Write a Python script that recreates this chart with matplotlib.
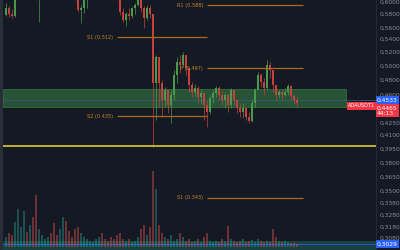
"""ADAUSDT candle chart with pivot levels, zone and volume (dark theme)."""

import numpy as np
import matplotlib
matplotlib.use("Agg")
import matplotlib.pyplot as plt
from matplotlib.transforms import blended_transform_factory

# price axis labels shown on the right
tick_values = [0.6000, 0.5800, 0.5600, 0.5400, 0.5200, 0.5000, 0.4800, 0.4600,
               0.4250, 0.4100, 0.3950, 0.3800, 0.3650, 0.3500, 0.3380, 0.3280,
               0.3180, 0.3080]
tick_labels = [f"{v:.4f}".replace(".", ",") for v in tick_values]
# the screen scale is not linear: pixel row of every label (plus end anchors)
scale_prices = [0.25] + tick_values[::-1] + [0.70]
scale_rows = [307.6] + [238, 227, 215, 203, 191, 177, 163, 149, 135, 123,
                        95, 80, 66, 52, 39, 28, 14, 2] + [-58]

# candles
opens = [0.578, 0.590, 0.580, 0.577, 0.610, 0.615, 0.625, 0.630, 0.620, 0.625,
         0.615, 0.610, 0.612, 0.620, 0.628, 0.635, 0.630, 0.622, 0.618, 0.625,
         0.632, 0.628, 0.620, 0.615, 0.610, 0.587, 0.590, 0.605, 0.610, 0.618,
         0.625, 0.632, 0.640, 0.636, 0.628, 0.622, 0.616, 0.612, 0.610, 0.583,
         0.571, 0.580, 0.577, 0.590, 0.595, 0.605, 0.590, 0.574, 0.590, 0.580,
         0.476, 0.513, 0.476, 0.454, 0.467, 0.447, 0.460, 0.487, 0.506, 0.501,
         0.516, 0.497, 0.473, 0.464, 0.469, 0.457, 0.463, 0.447, 0.439, 0.456,
         0.463, 0.469, 0.460, 0.454, 0.460, 0.447, 0.467, 0.454, 0.444, 0.439,
         0.444, 0.432, 0.428, 0.450, 0.467, 0.487, 0.477, 0.469, 0.501, 0.494,
         0.473, 0.460, 0.464, 0.460, 0.464, 0.472, 0.459, 0.454]
closes = [0.590, 0.580, 0.577, 0.610, 0.615, 0.625, 0.630, 0.620, 0.625, 0.615,
          0.610, 0.612, 0.620, 0.628, 0.635, 0.630, 0.622, 0.618, 0.625, 0.632,
          0.628, 0.620, 0.615, 0.610, 0.587, 0.590, 0.605, 0.610, 0.618, 0.625,
          0.632, 0.640, 0.636, 0.628, 0.622, 0.616, 0.612, 0.610, 0.583, 0.571,
          0.580, 0.577, 0.590, 0.595, 0.605, 0.590, 0.574, 0.590, 0.580, 0.476,
          0.513, 0.476, 0.454, 0.467, 0.447, 0.460, 0.487, 0.506, 0.501, 0.516,
          0.497, 0.473, 0.464, 0.469, 0.457, 0.463, 0.447, 0.439, 0.456, 0.463,
          0.469, 0.460, 0.454, 0.460, 0.447, 0.467, 0.454, 0.444, 0.439, 0.444,
          0.432, 0.428, 0.450, 0.467, 0.487, 0.477, 0.469, 0.501, 0.494, 0.473,
          0.460, 0.464, 0.460, 0.464, 0.472, 0.459, 0.454, 0.450]
highs = [0.598, 0.593, 0.588, 0.620, 0.622, 0.632, 0.640, 0.634, 0.630, 0.628,
         0.620, 0.616, 0.624, 0.633, 0.640, 0.638, 0.632, 0.626, 0.630, 0.637,
         0.636, 0.630, 0.624, 0.618, 0.614, 0.595, 0.608, 0.616, 0.622, 0.630,
         0.638, 0.646, 0.644, 0.638, 0.630, 0.624, 0.620, 0.616, 0.620, 0.590,
         0.584, 0.590, 0.592, 0.598, 0.615, 0.610, 0.594, 0.595, 0.595, 0.574,
         0.516, 0.494, 0.480, 0.471, 0.467, 0.467, 0.494, 0.513, 0.516, 0.520,
         0.511, 0.497, 0.477, 0.475, 0.472, 0.467, 0.464, 0.454, 0.460, 0.467,
         0.472, 0.472, 0.467, 0.464, 0.463, 0.469, 0.467, 0.454, 0.450, 0.450,
         0.444, 0.439, 0.454, 0.469, 0.491, 0.490, 0.483, 0.509, 0.506, 0.494,
         0.473, 0.467, 0.467, 0.469, 0.475, 0.472, 0.462, 0.458]
lows = [0.577, 0.576, 0.574, 0.576, 0.606, 0.610, 0.620, 0.614, 0.616, 0.608,
        0.604, 0.568, 0.608, 0.616, 0.624, 0.622, 0.614, 0.612, 0.614, 0.620,
        0.618, 0.612, 0.608, 0.604, 0.583, 0.567, 0.582, 0.590, 0.606, 0.614,
        0.620, 0.628, 0.626, 0.620, 0.614, 0.608, 0.606, 0.604, 0.578, 0.568,
        0.563, 0.571, 0.574, 0.580, 0.593, 0.583, 0.560, 0.571, 0.574, 0.397,
        0.429, 0.445, 0.432, 0.445, 0.437, 0.425, 0.454, 0.476, 0.490, 0.499,
        0.487, 0.464, 0.457, 0.457, 0.450, 0.450, 0.429, 0.420, 0.436, 0.450,
        0.457, 0.454, 0.447, 0.444, 0.439, 0.444, 0.447, 0.438, 0.433, 0.431,
        0.429, 0.425, 0.426, 0.445, 0.467, 0.471, 0.460, 0.467, 0.483, 0.464,
        0.454, 0.456, 0.454, 0.459, 0.460, 0.454, 0.449, 0.445]
volumes = [10, 14, 12, 25, 38, 20, 36, 15, 22, 30,
           52, 18, 12, 8, 10, 14, 24, 12, 18, 30,
           26, 16, 10, 18, 20, 14, 10, 8, 6, 5,
           8, 10, 14, 8, 6, 10, 8, 12, 14, 8,
           6, 8, 5, 6, 10, 18, 22, 12, 20, 76,
           58, 22, 14, 10, 8, 12, 6, 8, 14, 10,
           6, 8, 5, 6, 8, 5, 10, 14, 6, 5,
           6, 5, 8, 6, 21, 8, 6, 5, 6, 8,
           5, 6, 7, 5, 8, 6, 5, 6, 5, 18,
           10, 6, 5, 6, 5, 4, 4, 3]

# pivot levels: label, drawn price, first and last candle of the line
level_names = ["R1 (0.588)", "S1 (0.512)", "P (0.497)", "S2 (0.435)", "S1 (0.343)"]
level_prices = [0.595, 0.5436, 0.4971, 0.4337, 0.343]
level_start = [67, 37, 67, 37, 67]
level_end = [99, 67, 99, 67, 99]

zone_low, zone_high = 0.445, 0.468
yellow_level = 0.3982
last_price, close_price, low_mark = 0.4533, 0.4465, 0.3029
countdown = "44:13"
symbol = "ADAUSDT1"

bg = "#151924"
up, down = "#4a9a4c", "#c8403c"


def forward(p):
    return -np.interp(p, scale_prices, scale_rows)


def inverse(t):
    return np.interp(-t, scale_rows[::-1], scale_prices[::-1])


def fmt(v):
    return f"{v:.4f}".replace(".", ",")


fig = plt.figure(figsize=(4, 2.5), dpi=100, facecolor=bg)
fig.add_artist(plt.Rectangle((0, 0), 3 / 400, 1, transform=fig.transFigure,
                             color="#2a2e39", zorder=0))
ax = fig.add_axes([3 / 400, 0, 373 / 400, 1], facecolor=bg)
ax.set_yscale("function", functions=(forward, inverse))

n = len(closes)
x = np.arange(n)
o, c = np.array(opens), np.array(closes)
colors = np.where(c >= o, up, down)
vol_colors = np.where(c >= o, "#26a69a", "#ef5350")

# volume on a twin axis at the bottom
vax = ax.twinx()
vax.set_ylim(-3, 247)
vax.bar(x, volumes, width=0.7, color=vol_colors, alpha=0.4, zorder=1)
vax.axis("off")

# green zone, thin current price line
ax.axhspan(zone_low, zone_high, xmin=0, xmax=343 / 373, facecolor="#3f9a4d",
           alpha=0.45, edgecolor="#4caf50", lw=0.6, zorder=1)
ax.axhline(last_price, color="#3b5a8c", lw=0.5, zorder=2)
ax.axhspan(0.2, 0.3055, facecolor="#1f5a52", alpha=0.6, zorder=0)
ax.axhline(low_mark, color="#2962ff", lw=0.8, alpha=0.7, zorder=2)

# candles
ax.vlines(x, lows, highs, colors=colors, lw=0.5, zorder=3)
ax.bar(x, np.abs(c - o), bottom=np.minimum(o, c), width=0.55, color=colors, zorder=3)

ax.axhline(yellow_level, color="#c9c02e", lw=1.3, zorder=4)

for name, p, s, e in zip(level_names, level_prices, level_start, level_end):
    ax.hlines(p, s, e, color="#a86a1c", lw=0.9, zorder=4)
    ax.text(s - 1.3, p, name, color="#c88a26", fontsize=3.6, ha="right",
            va="center", zorder=5)

ax.set_xlim(-1.0, 373 / 3 - 1.0)
ax.set_ylim(inverse(-250), inverse(0))
ax.set_yticks(tick_values)
ax.set_yticklabels(tick_labels)
ax.yaxis.tick_right()
ax.tick_params(axis="y", length=0, pad=2.5, labelsize=4.3, labelcolor="#8a8e99")
ax.set_xticks([])
for sp in ax.spines.values():
    sp.set_visible(False)
ax.spines["right"].set_visible(True)
ax.spines["right"].set_color("#2a2e39")
ax.spines["right"].set_linewidth(0.6)

# price badges on the right axis
tr = blended_transform_factory(ax.transAxes, ax.transData)
badge = dict(fontsize=4.3, color="white", ha="left", transform=tr,
             clip_on=False, zorder=6)
ax.text(1.0 + 1 / 373, last_price, fmt(last_price), va="center",
        bbox=dict(boxstyle="square,pad=0.25", fc="#2962ff", ec="none"), **badge)
ax.text(1.0 + 1 / 373, close_price, fmt(close_price) + "\n" + countdown,
        va="top", linespacing=1.0,
        bbox=dict(boxstyle="square,pad=0.25", fc="#f23645", ec="none"), **badge)
ax.text(1.0 + 1 / 373, low_mark, fmt(low_mark), va="center",
        bbox=dict(boxstyle="square,pad=0.25", fc="#2962ff", ec="none"), **badge)
ax.text(0.998, close_price, symbol, transform=tr, fontsize=3.6, color="white",
        va="center", ha="right",
        bbox=dict(boxstyle="square,pad=0.25", fc="#f23645", ec="none"), zorder=6)

fig.savefig("out.png", dpi=100, facecolor=bg)
